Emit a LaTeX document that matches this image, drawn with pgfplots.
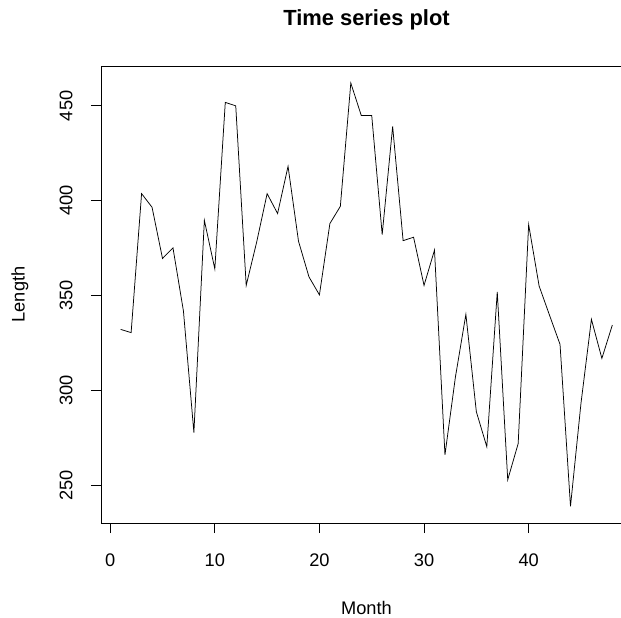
\documentclass[border=0pt]{standalone}
\usepackage{fontspec}
\setmainfont{Liberation Sans}
\usepackage{pgfplots}
\pgfplotsset{compat=1.18}
\begin{document}
\begin{tikzpicture}
\begin{axis}[
  at={(101bp,95bp)}, anchor=south west,
  scale only axis, width=531bp, height=457bp,
  xmin=-0.88, xmax=49.88, ymin=230, ymax=471,
  xtick={0,10,20,30,40}, ytick={250,300,350,400,450},
  tick align=outside, xtick pos=bottom, ytick pos=left,
  major tick length=10bp,
  tick style={black, line width=0.75bp},
  axis line style={black, line width=0.75bp},
  /pgf/number format/assume math mode=true,
  ticklabel style={font=\fontsize{18.3}{21}\selectfont},
  xticklabel style={anchor=center, yshift=-27bp},
  yticklabel style={rotate=90, anchor=center, yshift=25bp},
  xlabel={Month}, ylabel={Length},
  label style={font=\fontsize{18.3}{21}\selectfont},
  xlabel style={at={(axis description cs:0.5,0)}, anchor=center, yshift=-85bp},
  ylabel style={at={(axis description cs:-0.1525,0.5)}, anchor=center},
  title={Time series plot},
  title style={font=\fontsize{22}{25}\bfseries, at={(axis description cs:0.5,1)}, anchor=center, yshift=40bp},
]
\addplot[black, line width=0.75bp, mark=none] coordinates {
(1,332.1) (2,330.4) (3,403.7) (4,396.5) (5,369.5) (6,375.1) (7,341.8) (8,277.7)
(9,389.6) (10,364.0) (11,451.8) (12,450.0) (13,355.3) (14,378.1) (15,403.7) (16,393.2)
(17,418.1) (18,378.6) (19,359.8) (20,350.3) (21,387.9) (22,397.0) (23,462.0) (24,444.9)
(25,444.9) (26,382.1) (27,439.1) (28,378.9) (29,380.7) (30,355.3) (31,373.9) (32,265.9)
(33,307.0) (34,340.0) (35,288.7) (36,270.2) (37,351.9) (38,252.8) (39,271.9) (40,387.4)
(41,355.0) (42,339.5) (43,324.2) (44,238.8) (45,293.0) (46,337.4) (47,316.8) (48,334.4)
};
\end{axis}
\pgfresetboundingbox
\path[use as bounding box] (0,0) rectangle (621bp,618bp);
\end{tikzpicture}
\end{document}
